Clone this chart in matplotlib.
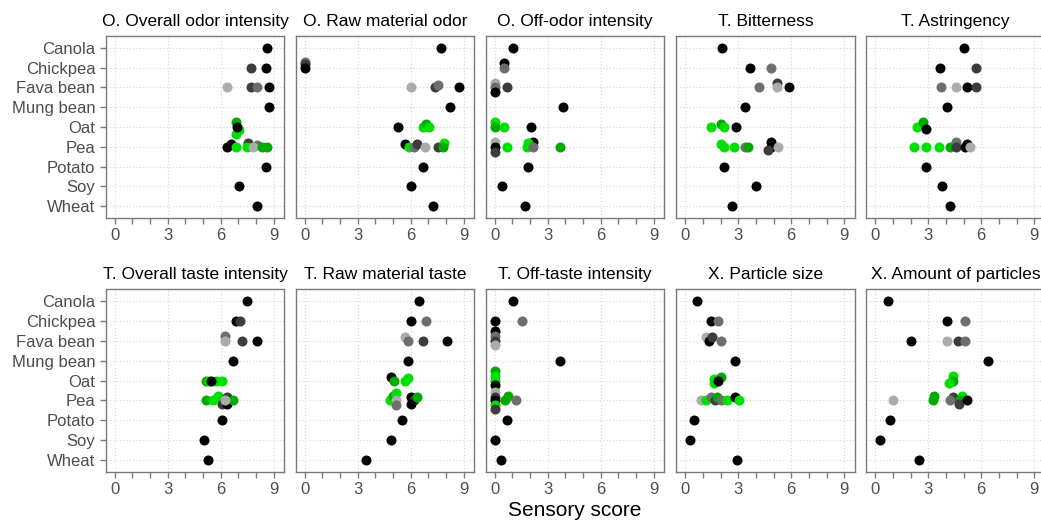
import matplotlib.pyplot as plt

plt.rcParams['font.family'] = ['Liberation Sans', 'DejaVu Sans']

# Categories (y axis) and panel titles
categories = ['Canola', 'Chickpea', 'Fava bean', 'Mung bean', 'Oat', 'Pea', 'Potato', 'Soy', 'Wheat']
titles = ['O. Overall odor intensity', 'O. Raw material odor', 'O. Off-odor intensity',
          'T. Bitterness', 'T. Astringency',
          'T. Overall taste intensity', 'T. Raw material taste', 'T. Off-taste intensity',
          'X. Particle size', 'X. Amount of particles']

# point colour groups
colors = {'k': '#000000', 'd': '#3c3c3c', 'm': '#6e6e6e', 'l': '#ababab',
          'g': '#00e000', 'G': '#00aa00'}

# each point: (category, score, colour group, small vertical jitter)
odor_overall = [
    ('Canola', 8.64, 'k', 0), ('Chickpea', 7.74, 'd', 0), ('Chickpea', 8.55, 'k', 0),
    ('Fava bean', 6.36, 'l', 0), ('Fava bean', 7.70, 'd', 0), ('Fava bean', 8.06, 'm', 0), ('Fava bean', 8.74, 'k', 0),
    ('Mung bean', 8.74, 'k', 0),
    ('Oat', 6.85, 'G', -0.25), ('Oat', 7.06, 'g', 0.17), ('Oat', 6.85, 'g', 0.33), ('Oat', 6.90, 'k', 0),
    ('Pea', 6.38, 'k', 0), ('Pea', 6.57, 'k', -0.15), ('Pea', 6.87, 'g', 0), ('Pea', 7.55, 'd', -0.2),
    ('Pea', 7.51, 'g', 0), ('Pea', 8.06, 'm', -0.07), ('Pea', 7.81, 'l', 0), ('Pea', 8.32, 'G', 0), ('Pea', 8.62, 'G', 0),
    ('Potato', 8.55, 'k', 0), ('Soy', 7.06, 'k', 0), ('Wheat', 8.04, 'k', 0),
]
odor_raw = [
    ('Canola', 7.70, 'k', 0), ('Chickpea', 0.02, 'm', -0.28), ('Chickpea', 0.02, 'd', -0.2), ('Chickpea', 0.0, 'k', 0),
    ('Fava bean', 6.04, 'l', 0), ('Fava bean', 7.36, 'd', 0), ('Fava bean', 7.55, 'm', -0.13), ('Fava bean', 8.72, 'k', 0),
    ('Mung bean', 8.21, 'k', 0),
    ('Oat', 5.30, 'k', 0), ('Oat', 6.70, 'g', 0), ('Oat', 6.87, 'G', -0.15), ('Oat', 7.06, 'g', 0),
    ('Pea', 5.70, 'k', -0.15), ('Pea', 5.89, 'g', 0), ('Pea', 6.21, 'm', 0), ('Pea', 6.38, 'd', -0.15),
    ('Pea', 6.81, 'l', 0), ('Pea', 7.53, 'd', 0), ('Pea', 7.89, 'g', -0.2), ('Pea', 7.81, 'G', 0),
    ('Potato', 6.70, 'k', 0), ('Soy', 6.04, 'k', 0), ('Wheat', 7.26, 'k', 0),
]
odor_off = [
    ('Canola', 1.02, 'k', 0), ('Chickpea', 0.51, 'k', -0.25), ('Chickpea', 0.51, 'm', 0),
    ('Fava bean', 0.02, 'l', -0.2), ('Fava bean', 0.0, 'm', 0), ('Fava bean', 0.0, 'k', 0.22), ('Fava bean', 0.72, 'd', 0),
    ('Mung bean', 3.89, 'k', 0),
    ('Oat', 0.0, 'g', -0.25), ('Oat', 0.0, 'G', 0), ('Oat', 0.51, 'g', 0), ('Oat', 2.04, 'k', 0),
    ('Pea', 0.0, 'l', -0.23), ('Pea', 0.0, 'k', 0), ('Pea', 0.0, 'd', 0.25), ('Pea', 0.70, 'g', 0),
    ('Pea', 2.20, 'k', -0.23), ('Pea', 1.90, 'g', -0.2), ('Pea', 1.85, 'g', 0), ('Pea', 2.20, 'm', 0), ('Pea', 3.70, 'G', 0),
    ('Potato', 1.87, 'k', 0), ('Soy', 0.45, 'k', 0), ('Wheat', 1.70, 'k', 0),
]
bitterness = [
    ('Canola', 2.09, 'k', 0), ('Chickpea', 3.64, 'k', 0), ('Chickpea', 4.83, 'm', 0),
    ('Fava bean', 4.17, 'm', 0), ('Fava bean', 5.17, 'd', -0.2), ('Fava bean', 5.17, 'l', 0), ('Fava bean', 5.85, 'k', 0),
    ('Mung bean', 3.36, 'k', 0),
    ('Oat', 1.49, 'g', 0), ('Oat', 2.00, 'G', -0.15), ('Oat', 2.19, 'g', 0), ('Oat', 2.87, 'k', 0),
    ('Pea', 2.00, 'g', -0.15), ('Pea', 2.19, 'g', 0), ('Pea', 2.74, 'g', 0), ('Pea', 3.36, 'm', 0),
    ('Pea', 3.57, 'G', 0), ('Pea', 4.87, 'k', -0.23), ('Pea', 4.87, 'k', 0), ('Pea', 4.68, 'd', 0.17), ('Pea', 5.25, 'l', 0),
    ('Potato', 2.19, 'k', 0), ('Soy', 4.02, 'k', 0), ('Wheat', 2.66, 'k', 0),
]
astringency = [
    ('Canola', 5.02, 'k', 0), ('Chickpea', 3.64, 'k', 0), ('Chickpea', 5.68, 'd', 0),
    ('Fava bean', 3.70, 'm', 0), ('Fava bean', 4.55, 'l', 0), ('Fava bean', 5.19, 'k', 0), ('Fava bean', 5.72, 'd', 0),
    ('Mung bean', 4.04, 'k', 0),
    ('Oat', 2.36, 'g', 0), ('Oat', 2.70, 'G', -0.23), ('Oat', 2.89, 'k', 0.12),
    ('Pea', 2.21, 'g', 0), ('Pea', 2.87, 'g', 0), ('Pea', 3.60, 'g', 0), ('Pea', 4.26, 'G', 0),
    ('Pea', 4.57, 'm', -0.23), ('Pea', 4.57, 'd', 0), ('Pea', 5.06, 'k', 0), ('Pea', 5.21, 'k', -0.15), ('Pea', 5.38, 'l', 0),
    ('Potato', 2.87, 'k', 0), ('Soy', 3.77, 'k', 0), ('Wheat', 4.26, 'k', 0),
]
taste_overall = [
    ('Canola', 7.47, 'k', 0), ('Chickpea', 6.89, 'k', 0), ('Chickpea', 7.08, 'd', 0),
    ('Fava bean', 6.23, 'm', -0.22), ('Fava bean', 6.23, 'l', 0), ('Fava bean', 7.23, 'd', 0), ('Fava bean', 8.06, 'k', 0),
    ('Mung bean', 6.72, 'k', 0),
    ('Oat', 5.19, 'G', 0), ('Oat', 5.32, 'g', 0), ('Oat', 5.72, 'g', 0), ('Oat', 6.06, 'g', 0), ('Oat', 5.47, 'k', 0),
    ('Pea', 5.19, 'G', 0), ('Pea', 5.55, 'g', 0), ('Pea', 5.85, 'g', -0.23), ('Pea', 6.06, 'd', 0.2),
    ('Pea', 6.38, 'd', -0.18), ('Pea', 6.38, 'k', 0.2), ('Pea', 6.72, 'G', 0), ('Pea', 6.23, 'l', 0),
    ('Potato', 6.06, 'k', 0), ('Soy', 5.04, 'k', 0), ('Wheat', 5.26, 'k', 0),
]
taste_raw = [
    ('Canola', 6.47, 'k', 0), ('Chickpea', 6.04, 'k', 0), ('Chickpea', 6.85, 'm', 0),
    ('Fava bean', 5.70, 'l', -0.17), ('Fava bean', 5.87, 'm', 0), ('Fava bean', 6.70, 'd', 0), ('Fava bean', 8.06, 'k', 0),
    ('Mung bean', 5.85, 'k', 0),
    ('Oat', 4.89, 'k', -0.17), ('Oat', 5.04, 'G', 0), ('Oat', 5.70, 'g', 0), ('Oat', 5.85, 'g', -0.15),
    ('Pea', 4.83, 'g', 0), ('Pea', 5.02, 'G', -0.2), ('Pea', 5.19, 'g', -0.35), ('Pea', 5.15, 'l', 0),
    ('Pea', 5.19, 'm', 0.23), ('Pea', 6.04, 'k', -0.18), ('Pea', 6.17, 'd', 0), ('Pea', 6.04, 'k', 0.18), ('Pea', 6.36, 'G', -0.15),
    ('Potato', 5.53, 'k', 0), ('Soy', 4.89, 'k', 0), ('Wheat', 3.47, 'k', 0),
]
taste_off = [
    ('Canola', 1.02, 'k', 0), ('Chickpea', 0.0, 'k', 0), ('Chickpea', 1.53, 'm', 0),
    ('Fava bean', 0.0, 'k', -0.47), ('Fava bean', 0.0, 'm', -0.22), ('Fava bean', 0.0, 'd', 0), ('Fava bean', 0.0, 'l', 0.23),
    ('Mung bean', 3.70, 'k', 0),
    ('Oat', 0.0, 'G', -0.47), ('Oat', 0.0, 'g', -0.22), ('Oat', 0.0, 'g', 0), ('Oat', 0.0, 'k', 0.23),
    ('Pea', 0.0, 'l', -0.43), ('Pea', 0.0, 'd', -0.18), ('Pea', 0.0, 'k', 0), ('Pea', 0.0, 'g', 0.23),
    ('Pea', 0.0, 'd', 0.45), ('Pea', 0.74, 'G', -0.22), ('Pea', 0.57, 'G', 0), ('Pea', 1.21, 'm', 0),
    ('Potato', 0.70, 'k', 0), ('Soy', 0.0, 'k', 0), ('Wheat', 0.36, 'k', 0),
]
particle_size = [
    ('Canola', 0.68, 'k', 0), ('Chickpea', 1.47, 'k', 0), ('Chickpea', 1.85, 'm', 0),
    ('Fava bean', 1.17, 'l', -0.17), ('Fava bean', 1.34, 'k', 0.03), ('Fava bean', 1.51, 'd', -0.17), ('Fava bean', 2.02, 'm', 0),
    ('Mung bean', 2.83, 'k', 0),
    ('Oat', 1.66, 'g', -0.1), ('Oat', 2.02, 'G', -0.17), ('Oat', 1.66, 'g', 0.13), ('Oat', 1.87, 'k', 0),
    ('Pea', 0.91, 'l', 0), ('Pea', 1.17, 'g', 0), ('Pea', 1.49, 'm', -0.18), ('Pea', 1.68, 'd', 0),
    ('Pea', 1.79, 'G', -0.18), ('Pea', 2.02, 'm', 0), ('Pea', 2.34, 'g', 0), ('Pea', 2.83, 'k', -0.15), ('Pea', 3.02, 'g', 0),
    ('Potato', 0.49, 'k', 0), ('Soy', 0.28, 'k', 0), ('Wheat', 2.91, 'k', 0),
]
particle_amount = [
    ('Canola', 0.72, 'k', 0), ('Chickpea', 4.04, 'k', 0), ('Chickpea', 5.06, 'm', 0),
    ('Fava bean', 2.02, 'k', 0), ('Fava bean', 4.04, 'l', 0), ('Fava bean', 4.70, 'd', 0), ('Fava bean', 5.06, 'm', 0),
    ('Mung bean', 6.38, 'k', 0),
    ('Oat', 4.38, 'g', -0.25), ('Oat', 4.38, 'G', 0), ('Oat', 4.19, 'g', 0.15),
    ('Pea', 1.00, 'l', 0), ('Pea', 3.32, 'G', -0.22), ('Pea', 3.25, 'G', 0), ('Pea', 4.40, 'd', -0.15),
    ('Pea', 4.21, 'm', 0), ('Pea', 4.89, 'g', -0.22), ('Pea', 4.81, 'G', 0), ('Pea', 4.72, 'd', 0.18), ('Pea', 5.21, 'k', 0),
    ('Potato', 0.85, 'k', 0), ('Soy', 0.28, 'k', 0), ('Wheat', 2.47, 'k', 0),
]

panels = [odor_overall, odor_raw, odor_off, bitterness, astringency,
          taste_overall, taste_raw, taste_off, particle_size, particle_amount]

W, H = 1041, 521
fig = plt.figure(figsize=(W / 100, H / 100), dpi=100)

# panel placement in pixels
lefts = [105.7, 295.7, 485.7, 676.3, 866.3]
panel_w = 178.6
tops = [36, 289]
bottoms = [218, 472]

for i, (points, title) in enumerate(zip(panels, titles)):
    row, col = divmod(i, 5)
    ax = fig.add_axes([lefts[col] / W, 1 - bottoms[row] / H,
                       panel_w / W, (bottoms[row] - tops[row]) / H])
    ax.set_xlim(-0.5, 9.6)
    ax.set_ylim(8.6, -0.6)

    # dotted grid
    for v in [0, 3, 6, 9]:
        ax.axvline(v, color='#d4d4d4', ls=(0, (1, 2)), lw=0.8, zorder=0)
    for j in range(len(categories)):
        ax.axhline(j, color='#d4d4d4', ls=(0, (1, 2)), lw=0.8, zorder=0)

    for cat, val, grp, dy in points:
        ax.scatter(val, categories.index(cat) + dy, s=52, color=colors[grp],
                   linewidths=0, zorder=3)

    ax.set_xticks(range(10))
    ax.set_xticklabels([str(t) if t % 3 == 0 else '' for t in range(10)])
    ax.set_yticks(range(len(categories)))
    if col == 0:
        ax.set_yticklabels(categories)
    else:
        ax.tick_params(axis='y', left=False, labelleft=False)
    ax.tick_params(colors='#7a7a7a', labelcolor='#4d4d4d', labelsize=12,
                   length=4, width=1)
    for s in ax.spines.values():
        s.set_color('#7a7a7a')
        s.set_linewidth(1.0)
    ax.set_title(title, fontsize=12.5, pad=7)

fig.text(575 / W, 1 - 510 / H, 'Sensory score', ha='center', va='center', fontsize=15)

fig.savefig('out.png', dpi=100)
